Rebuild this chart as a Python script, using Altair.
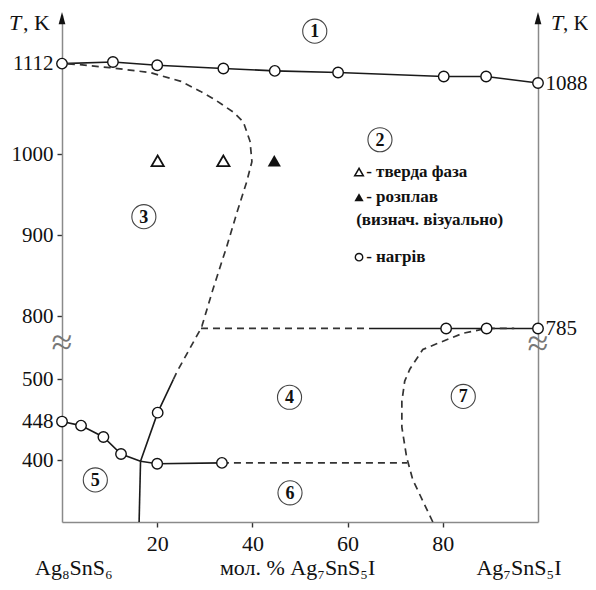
import altair as alt
import pandas as pd

OFF = 222          # temperature removed above the axis break
BREAK_T = 650
CALC = f"datum.T > {BREAK_T} ? datum.T - {OFF} : datum.T"
SERIF = "Liberation Serif"
YDOM = [324, 950]

# ---------------- data ----------------
# liquidus (upper solid line with heating points)
liq_x = [0, 10.7, 20, 33.9, 44.7, 58.0, 80.2, 89.1, 100]
liq_T = [1112, 1114, 1110, 1106, 1103, 1101, 1096, 1096, 1088]
# lower-left liquidus to eutectic
low_x = [0, 4.0, 8.7, 12.4, 16.5]
low_T = [448, 443, 429, 408, 399]
# eutectic horizontal (solid part)
eut_x = [16.5, 20, 33.6]
eut_T = [399, 396, 397]
# eutectic horizontal (dashed continuation)
eutd_x = [33.6, 72.5]
eutd_T = [397, 397]
# vertical line below eutectic
vert_x = [16.5, 16.2]
vert_T = [399, 324]
# solid branch 3/4 boundary
br_x = [16.5, 20.1, 23.4]
br_T = [399, 459, 500]
# dashed big boundary curve
curve_x = [23.4, 24.2, 29.0, 29.4, 31.8, 34.6, 36.8, 38.8, 39.9, 39.5, 38.1, 36.0, 32.0, 29.0, 25.0, 18.5, 10.0, 3.2, 0]
curve_T = [500, 510, 783, 788, 835, 886, 929, 966, 991, 1016, 1040, 1052, 1068, 1078, 1090, 1101, 1107, 1111, 1112]
# 785 K line
h785d_x = [29.2, 64.0]
h785d_T = [785, 785]
h785s_x = [64.5, 100]
h785s_T = [785, 785]
# dashed curve around field 7
c7_x = [77.9, 73.7, 72.4, 71.4, 71.4, 72.0, 73.1, 75.8, 78.7, 84.2, 89.2, 95.0]
c7_T = [324, 376, 404, 441, 473, 498, 513, 537, 766, 779, 785, 785]

# heating points (open circles)
heat_x = liq_x + [0, 4.0, 8.7, 12.4, 20.1, 20, 33.6, 80.7, 89.2, 100]
heat_T = liq_T + [448, 443, 429, 408, 459, 396, 397, 785, 785, 785]

# visual observations
solid_tri_x = [20.1, 33.9]
solid_tri_T = [992, 992]
melt_tri_x = [44.6]
melt_tri_T = [992]

# phase field numbers
fld_lab = ["1", "2", "3", "4", "5", "6", "7"]
fld_x = [53.1, 66.8, 17.2, 47.8, 7.0, 47.9, 84.3]
fld_T = [1152, 1018, 923, 478, 376, 360, 479]

# legend
leg_sym = ["open_tri", "fill_tri", "circle"]
leg_sym_x = [62.4, 62.4, 62.4]
leg_sym_T = [978, 947, 873]
leg_txt = ["- тверда фаза", "- розплав", "(визнач. візуально)", "- нагрів"]
leg_txt_x = [63.9, 63.9, 61.8, 63.9]
leg_txt_T = [978, 947, 919, 873]

# axis ticks
x_ticks = [20, 40, 60, 80]
left_ticks_T = [400, 448, 500, 800, 900, 1000, 1112]
right_ticks_T = [1088, 785]

# bottom names
names = ["Ag₈SnS₆", "мол. % Ag₇SnS₅I", "Ag₇SnS₅I"]
names_x = [2.5, 49.5, 96]
names_T = [258, 258, 258]


def disp(t):
    return t - OFF if t > BREAK_T else t


def seg_df(pairs):
    rows = []
    for sid, (xs, ts) in enumerate(pairs):
        for i, (a, b) in enumerate(zip(xs, ts)):
            rows.append({"x": a, "T": b, "seg": sid, "i": i})
    return pd.DataFrame(rows)


solid_df = seg_df([(liq_x, liq_T), (low_x, low_T), (eut_x, eut_T), (vert_x, vert_T),
                   (br_x, br_T), (h785s_x, h785s_T)])
dash_df = seg_df([(eutd_x, eutd_T), (curve_x, curve_T), (h785d_x, h785d_T), (c7_x, c7_T)])
heat_df = pd.DataFrame({"x": heat_x, "T": heat_T})
stri_df = pd.DataFrame({"x": solid_tri_x, "T": solid_tri_T})
mtri_df = pd.DataFrame({"x": melt_tri_x, "T": melt_tri_T})
fld_df = pd.DataFrame({"x": fld_x, "T": fld_T, "lab": fld_lab})
legs_df = pd.DataFrame({"x": leg_sym_x, "T": leg_sym_T, "s": leg_sym})
legt_df = pd.DataFrame({"x": leg_txt_x, "T": leg_txt_T, "t": leg_txt})
names_df = pd.DataFrame({"x": names_x, "T": names_T, "t": names})
arrow_df = pd.DataFrame({"x": [0, 100], "T": [1168, 1168]})
brk_df = pd.DataFrame({"x": [0, 100], "T": [544, 543]})
tk_df = pd.DataFrame({"x": [0, 0, 100, 100], "T": [1153, 1153, 1153, 1153],
                      "t": ["T", ", K", "T", ", K"], "it": [1, 0, 1, 0]})

XS = alt.Scale(domain=[0, 100], nice=False, zero=False)
YS = alt.Scale(domain=YDOM, nice=False, zero=False)
X = alt.X("x:Q", scale=XS)
Yn = alt.Y("D:Q", scale=YS)


def base(df):
    return alt.Chart(df).transform_calculate(D=CALC)


left_vals = [disp(t) for t in left_ticks_T]
right_vals = [disp(t) for t in right_ticks_T]

x_axis = alt.Axis(values=x_ticks, title=None, grid=False, labelFont=SERIF, labelFontSize=22,
                  labelColor="#111", domainColor="#8a8a8a", domainWidth=1.5, tickColor="#333",
                  tickWidth=1.4, tickSize=5, labelPadding=6)
y_left_axis = alt.Axis(values=left_vals, title=None, grid=False, labelFont=SERIF, labelFontSize=21,
                       labelColor="#111", domainColor="#8a8a8a", domainWidth=1.5, tickColor="#333",
                       tickWidth=1.4, tickSize=5, labelPadding=4,
                       labelExpr=f"datum.value > 560 ? datum.value + {OFF} : datum.value")

solid = base(solid_df).mark_line(color="#1a1a1a", strokeWidth=1.6).encode(
    x=alt.X("x:Q", scale=XS, axis=x_axis),
    y=alt.Y("D:Q", scale=YS, axis=y_left_axis),
    detail="seg:N", order="i:Q")

dashed = base(dash_df).mark_line(color="#333", strokeWidth=1.7, strokeDash=[7, 5]).encode(
    x=X, y=Yn, detail="seg:N", order="i:Q")

stri = base(stri_df).mark_point(shape="triangle-up", filled=True, fill="white", stroke="#111",
                                strokeWidth=1.8, size=150, opacity=1).encode(x=X, y=Yn)
mtri = base(mtri_df).mark_point(shape="triangle-up", filled=True, color="#111", size=175,
                                opacity=1).encode(x=X, y=Yn)

fld_c = base(fld_df).mark_point(shape="circle", filled=True, fill="white", stroke="#444",
                                strokeWidth=1.1, size=580, opacity=1).encode(x=X, y=Yn)
fld_t = base(fld_df).mark_text(font=SERIF, fontSize=18, fontWeight="bold", color="#111",
                               baseline="middle", dy=1).encode(x=X, y=Yn, text="lab:N")

leg_open = base(legs_df).transform_filter("datum.s == 'open_tri'").mark_point(
    shape="triangle-up", filled=True, fill="white", stroke="#111", strokeWidth=1.5, size=75,
    opacity=1).encode(x=X, y=Yn)
leg_fill = base(legs_df).transform_filter("datum.s == 'fill_tri'").mark_point(
    shape="triangle-up", filled=True, color="#111", size=85, opacity=1).encode(x=X, y=Yn)
leg_circ = base(legs_df).transform_filter("datum.s == 'circle'").mark_point(
    shape="circle", filled=True, fill="white", stroke="#111", strokeWidth=1.4, size=55,
    opacity=1).encode(x=X, y=Yn)
leg_text = base(legt_df).mark_text(font=SERIF, fontSize=17, fontWeight="bold", color="#111",
                                   align="left", baseline="middle").encode(x=X, y=Yn, text="t:N")

names_t = base(names_df).mark_text(font=SERIF, fontSize=22, color="#111", align="center",
                                   baseline="alphabetic").encode(x=X, y=Yn, text="t:N")

arrows = base(arrow_df).mark_point(shape="M0,-1L0.55,1L-0.55,1Z", filled=True, color="#111",
                                   size=150, opacity=1).encode(x=X, y=Yn)
brk = base(brk_df).mark_text(font=SERIF, fontSize=38, color="#777", baseline="middle").encode(
    x=X, y=Yn, text=alt.value("≈"))

tk_T_l = base(tk_df).transform_filter("datum.x == 0 && datum.it == 1").mark_text(
    font=SERIF, fontSize=22, fontStyle="italic", color="#111", align="left",
    baseline="alphabetic", dx=-53).encode(x=X, y=Yn, text="t:N")
tk_K_l = base(tk_df).transform_filter("datum.x == 0 && datum.it == 0").mark_text(
    font=SERIF, fontSize=22, color="#111", align="left", baseline="alphabetic", dx=-39).encode(
    x=X, y=Yn, text="t:N")
tk_T_r = base(tk_df).transform_filter("datum.x == 100 && datum.it == 1").mark_text(
    font=SERIF, fontSize=22, fontStyle="italic", color="#111", align="left",
    baseline="alphabetic", dx=13).encode(x=X, y=Yn, text="t:N")
tk_K_r = base(tk_df).transform_filter("datum.x == 100 && datum.it == 0").mark_text(
    font=SERIF, fontSize=21, color="#111", align="left", baseline="alphabetic", dx=25).encode(
    x=X, y=Yn, text="t:N")

left = alt.layer(solid, dashed, brk, stri, mtri, fld_c, fld_t, leg_open, leg_fill, leg_circ,
                 leg_text, names_t, arrows, tk_T_l, tk_K_l, tk_T_r, tk_K_r)

y_right_axis = alt.Axis(orient="right", values=right_vals, title=None, grid=False, labelFont=SERIF,
                        labelFontSize=21, labelColor="#111", domainColor="#8a8a8a", domainWidth=1.5,
                        ticks=False, labelPadding=7, labelExpr=f"datum.value + {OFF}")
heat = base(heat_df).mark_point(shape="circle", filled=True, fill="white", stroke="#111",
                                strokeWidth=1.4, size=110, opacity=1).encode(
    x=X, y=alt.Y("D:Q", scale=YS, axis=y_right_axis))

chart = alt.layer(left, heat).resolve_scale(y="independent").properties(
    width=476, height=507,
    autosize=alt.AutoSizeParams(type="none"),
    padding={"left": 54, "top": 7, "right": 50, "bottom": 60},
).configure_view(strokeWidth=0)

chart.save("out.html", embed_options={"renderer": "svg", "actions": False})
